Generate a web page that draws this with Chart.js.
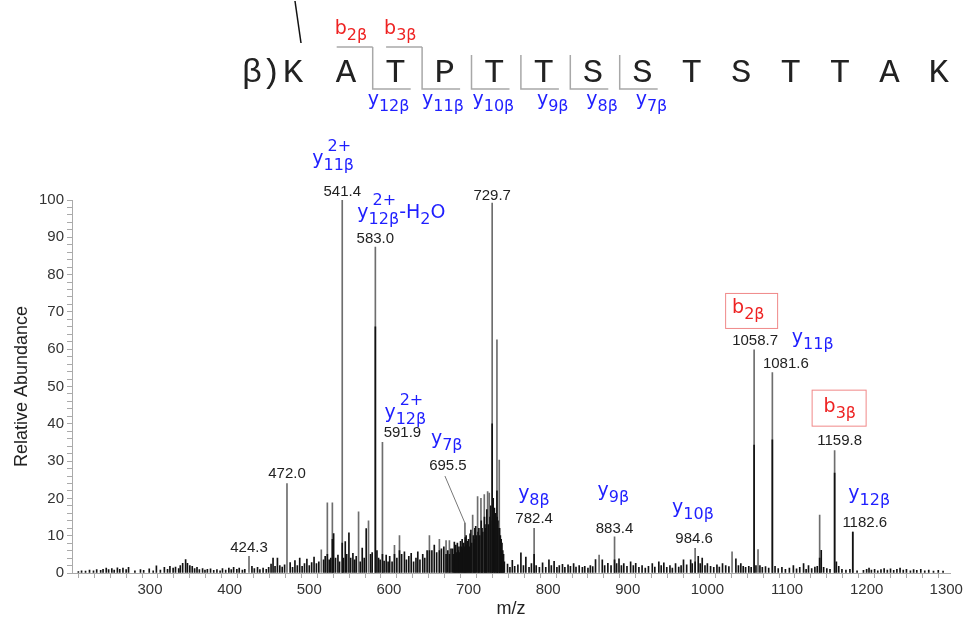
<!DOCTYPE html>
<html><head><meta charset="utf-8">
<script src="https://cdn.jsdelivr.net/npm/chart.js@4/dist/chart.umd.min.js"></script>
<style>html,body{margin:0;padding:0;background:#fff;}#wrap{width:966px;height:620px;}</style>
</head><body><div id="wrap"><canvas id="c" width="966" height="620"></canvas></div>
<script>
// ---------------- DATA ----------------
// isolated (grey) peak lines: m/z and relative abundance
const greyMz  = [424.3, 472.0, 515.1, 522.7, 529.0, 541.4, 561.9, 574.4, 583.0, 591.9, 607.0, 613.3, 650.9, 663.4, 671.8, 676.0, 695.5, 705.2, 711.4, 715.6, 719.8, 724.0, 726.0, 729.7, 735.7, 738.6, 782.4, 864.0, 883.4, 984.6, 1031.0, 1058.7, 1063.6, 1081.6, 1141.0, 1159.8, 1182.6];
const greyInt = [4.5, 24.0, 6.2, 18.8, 18.8, 100.0, 16.4, 14.0, 87.4, 35.0, 7.4, 10.0, 10.0, 9.0, 8.7, 8.7, 13.4, 15.5, 20.5, 20.0, 21.0, 21.8, 21.4, 99.2, 62.5, 30.3, 12.0, 4.8, 9.7, 6.6, 5.7, 59.8, 6.3, 53.7, 15.5, 32.8, 11.0];

// low-mass noise 200-450
const noiseLowMz = [210, 214, 219, 224, 229, 233, 238, 241, 245, 248,
  252, 255, 259, 262, 266, 270, 273, 281, 288, 292,
  299, 304, 308, 313, 318, 322, 325, 329, 332, 336,
  338, 341, 344.7, 347, 350, 353, 356, 359, 362, 366,
  369, 372, 376, 380, 384, 388, 391, 395, 399, 402,
  405, 409, 412, 416, 419, 428, 431, 435, 438, 442,
  446, 449];
const noiseLowInt = [0.4, 0.6, 0.5, 0.8, 0.6, 0.9, 0.7, 1.0, 1.3, 0.9,
  1.2, 0.8, 1.4, 1.0, 1.3, 0.9, 1.5, 0.6, 0.9, 0.7,
  1.1, 0.6, 1.9, 0.8, 1.5, 1.0, 1.8, 1.3, 1.6, 1.2,
  2.0, 2.6, 3.6, 2.6, 2.0, 1.8, 1.2, 1.5, 0.9, 1.2,
  0.8, 1.0, 1.1, 0.7, 0.9, 0.6, 1.2, 0.8, 1.3, 0.9,
  1.5, 1.0, 1.3, 0.8, 1.0, 1.8, 1.2, 1.5, 0.9, 1.3,
  1.0, 1.5];

// cluster 450-680
const clusterMz = [452, 454.5, 457, 460, 463, 466, 469, 476, 479, 482,
  485, 488, 491, 494, 497, 500, 503, 506, 509, 512,
  518, 520, 525, 527, 530.6, 533, 536, 538, 543, 545.2,
  547, 549.8, 552, 554.8, 557, 559, 564, 566.5, 569, 571.5,
  577, 579, 585, 587, 589, 594, 596.6, 599, 601, 604,
  610, 616, 619.5, 622, 625, 628, 631, 634, 636.3, 639,
  642.5, 645, 648, 654, 657, 660, 666, 669, 674, 678];
const clusterInt = [2.4, 4.0, 1.8, 4.0, 2.0, 1.6, 2.2, 2.8, 1.5, 3.3,
  2.0, 4.0, 1.8, 2.5, 3.7, 2.0, 2.8, 4.3, 2.5, 3.0,
  3.5, 4.5, 3.5, 4.0, 10.6, 4.0, 4.8, 3.0, 4.0, 8.4,
  5.0, 10.8, 4.0, 5.3, 3.5, 4.5, 3.0, 6.7, 4.0, 11.9,
  5.0, 5.5, 6.0, 4.0, 3.5, 3.2, 4.8, 3.0, 4.5, 3.0,
  4.0, 5.0, 5.7, 3.5, 4.5, 5.3, 3.0, 4.0, 5.7, 3.5,
  5.0, 4.0, 6.0, 6.0, 7.5, 5.5, 6.5, 7.0, 6.0, 6.5];

// dense region 680-745
const denseMz = [680, 681, 682.2, 683, 684, 685, 686, 687, 688, 689,
  690, 691, 692, 693, 694, 695, 696, 697, 698, 699,
  700, 701, 702, 703, 704, 706, 707, 708, 709, 710,
  712, 713, 714, 716, 717, 718, 720, 721, 722, 723,
  725, 727, 728, 730, 731, 732.5, 733, 734, 736, 737,
  739, 740, 741, 742, 743, 744, 745];
const denseInt = [6.5, 5.0, 8.3, 6.0, 7.5, 5.5, 8.0, 6.0, 7.0, 5.5,
  8.5, 7.0, 9.0, 6.5, 8.0, 7.0, 9.5, 10.0, 7.5, 8.5,
  9.0, 7.0, 10.5, 11.5, 8.0, 10.0, 9.0, 12.0, 12.5, 10.0,
  11.0, 12.0, 10.0, 14.0, 12.0, 11.0, 15.0, 12.0, 13.0, 17.0,
  13.0, 15.0, 18.0, 14.0, 20.0, 17.4, 12.0, 16.0, 15.0, 14.0,
  12.0, 10.0, 9.0, 8.0, 6.0, 5.0, 3.0];

// high-mass noise 745-1305
const noiseHighMz = [749, 752, 755, 758, 762, 765.8, 769, 772, 776, 779,
  785, 789, 793, 797, 801, 804, 807.5, 811, 814, 818,
  821, 825, 828, 832, 835, 839, 843, 846, 850, 853,
  856, 859.5, 868, 871, 875, 879, 886, 889, 892, 895,
  899, 903.6, 907, 910, 914, 918, 922, 926, 930.8, 934,
  939, 942, 945.3, 949, 953, 956, 960, 964, 967, 970,
  974, 979, 981, 988.5, 991, 993.5, 997, 1000, 1004, 1008,
  1012, 1015, 1019, 1023, 1027, 1035.8, 1039, 1042, 1045, 1048,
  1052, 1055, 1061, 1066, 1069, 1073, 1077, 1085, 1089, 1093.6,
  1098, 1103, 1108, 1112, 1116, 1120.8, 1124, 1127, 1131, 1135,
  1138, 1146, 1150, 1154, 1162, 1165, 1169, 1174, 1179, 1188,
  1196, 1200, 1203, 1206, 1210, 1214, 1218, 1222, 1226, 1230,
  1234, 1238, 1242, 1246, 1250, 1255, 1259, 1263, 1268, 1273,
  1278, 1284, 1290, 1296];
const noiseHighInt = [2.4, 1.5, 3.4, 1.8, 2.2, 5.4, 2.0, 4.3, 1.5, 2.5,
  2.0, 1.5, 2.7, 1.5, 3.5, 2.0, 3.1, 1.5, 2.0, 2.3,
  1.5, 2.2, 1.8, 2.5, 1.6, 2.0, 1.5, 1.8, 1.3, 2.0,
  1.7, 3.6, 3.5, 2.0, 2.6, 2.0, 2.5, 3.8, 2.0, 2.5,
  1.8, 3.0, 2.0, 2.6, 1.5, 2.0, 1.3, 1.8, 2.5, 1.6,
  3.0, 2.0, 2.7, 1.5, 2.0, 1.3, 2.5, 1.6, 2.0, 3.5,
  2.2, 3.5, 2.5, 4.5, 2.5, 4.0, 2.0, 2.5, 1.8, 1.5,
  2.2, 1.6, 2.5, 2.0, 1.7, 3.8, 2.0, 2.5, 1.8, 1.5,
  1.8, 1.5, 2.0, 2.0, 1.5, 1.7, 1.3, 1.8, 1.2, 1.5,
  1.0, 1.3, 2.0, 1.1, 1.5, 2.5, 1.0, 2.0, 1.2, 1.6,
  1.8, 1.5, 1.2, 1.0, 3.0, 1.8, 1.0, 0.8, 1.0, 0.6,
  0.7, 1.0, 1.3, 0.8, 1.0, 0.6, 0.9, 1.2, 0.8, 1.1,
  0.7, 1.0, 1.3, 0.8, 1.0, 0.6, 0.9, 0.7, 1.0, 0.6,
  0.8, 0.5, 0.7, 0.5];

// dark cores of the main peaks
const coreMz  = [522.7, 529.0, 541.4, 583.0, 591.9, 607.0, 613.3, 650.9, 663.4, 671.8, 676.0, 729.7, 735.7, 738.6, 782.4, 883.4, 984.6, 1058.7, 1081.6, 1141.0, 1143.0, 1159.8, 1182.6];
const coreInt = [5.0, 9.0, 8.0, 66.0, 5.0, 5.0, 6.0, 6.0, 6.0, 5.0, 5.0, 40.0, 22.0, 12.0, 5.0, 3.5, 3.0, 34.3, 35.7, 4.0, 6.1, 26.8, 11.0];

// labelled peaks
const peakLabelMz = [424.3, 472.0, 541.4, 583.0, 591.9, 695.5, 729.7, 782.4, 883.4, 984.6, 1058.7, 1081.6, 1159.8, 1182.6];
const peakLabelText = ['424.3', '472.0', '541.4', '583.0', '591.9', '695.5', '729.7', '782.4', '883.4', '984.6', '1058.7', '1081.6', '1159.8', '1182.6'];
// ion annotation for each labelled peak (parts: [text, role])
const peakIons = [
  null, null,
  {c:'b', parts:[['y','m'],['11β','sub'],['2+','sup']]},
  {c:'b', parts:[['y','m'],['12β','sub'],['2+','sup'],['-H','m'],['2','sub'],['O','m']]},
  {c:'b', parts:[['y','m'],['12β','sub'],['2+','sup']]},
  {c:'b', parts:[['y','m'],['7β','sub']]},
  null,
  {c:'b', parts:[['y','m'],['8β','sub']]},
  {c:'b', parts:[['y','m'],['9β','sub']]},
  {c:'b', parts:[['y','m'],['10β','sub']]},
  {c:'r', box:true, parts:[['b','m'],['2β','sub']]},
  {c:'b', parts:[['y','m'],['11β','sub']]},
  {c:'r', box:true, parts:[['b','m'],['3β','sub']]},
  {c:'b', parts:[['y','m'],['12β','sub']]}
];

const xTickStep = 20, xLabelStep = 100;
const yTickStep = 2, yLabelStep = 10;

// peptide sequence
const seqPrefix = ['β', ')'];
const seqResidues = ['K','A','T','P','T','T','S','S','T','S','T','T','A','K'];
// fragment cleavages: after residue index, type
const bCleaves = [{after:1, label:'2β'}, {after:2, label:'3β'}];
const yCleaves = [{after:1, label:'12β'}, {after:2, label:'11β'}, {after:3, label:'10β'}, {after:4, label:'9β'}, {after:5, label:'8β'}, {after:6, label:'7β'}];

// ---------------- LAYOUT (pixels) ----------------
const numLayout = [ {dx:0,gap:4},{dx:0,gap:5},{dx:0,gap:4},{dx:0,gap:4},{dx:20,gap:5},{dx:-17,gap:53},{dx:0,gap:3},
  {dx:0,gap:5},{dx:0,gap:4},{dx:-1,gap:5},{dx:1,gap:5},{dx:13.5,gap:5},{dx:5,gap:6},{dx:12,gap:5} ];
const ionLayout = [ null, null, {dx:-30,dy:-32}, {dx:-18,dy:-25}, {dx:-18,dy:-19}, {dx:-17,dy:-26}, null,
  {dx:-16,dy:-24}, {dx:-17,dy:-37}, {dx:-22,dy:-30},
  {dx:-23,dy:-32, bx:-30, by:-52, bw:52, bh:35}, {dx:6,dy:-25},
  {dx:-16,dy:-33, bx:-28, by:-55, bw:54, bh:36}, {dx:-16.5,dy:-28} ];
const seqLayout = {firstX:293, restX:346, step:49.4, base:82, prefixX:[252,271], topY:47, botY:89, yOnlyTop:55,
  bLabelBase:34, yLabelBase:105, yLabelOff:[-5,0,1,16,16,16], bLabelOff:-38};
const COLORS = {b:'#1f1fff', r:'#ee2222', box:'#f08888', num:'#222', grey:'#6e6e6e', black:'#111', axis:'#aaa'};
const SANS = '"Liberation Sans", Arial, sans-serif';
const ION = '"DejaVu Sans", Verdana, sans-serif';

function pts(mz, it){ return mz.map((m,i)=>({x:m, y:it[i]})); }

function drawRich(ctx, x, y, parts, color, mainPx, subPx){
  ctx.fillStyle = color; ctx.textAlign = 'left'; ctx.textBaseline = 'alphabetic';
  let cx = x, subStart = null;
  for (const [t, role] of parts){
    if (role === 'm'){ ctx.font = mainPx+'px '+ION; ctx.fillText(t, cx, y); cx += ctx.measureText(t).width; subStart = null; }
    else if (role === 'sub'){ ctx.font = subPx+'px '+ION; ctx.fillText(t, cx, y+6); subStart = cx; cx += ctx.measureText(t).width; }
    else { ctx.font = subPx+'px '+ION; const sx = subStart !== null ? subStart+4 : cx; ctx.fillText(t, sx, y-13); cx = Math.max(cx, sx + ctx.measureText(t).width); }
  }
  return cx;
}

const annot = {
  id:'annot',
  afterDatasetsDraw(chart){
    const {ctx} = chart; const xs = chart.scales.x, ys = chart.scales.y;
    ctx.save();
    peakLabelMz.forEach((m,i)=>{
      const h = greyInt[greyMz.indexOf(m)];
      const px = xs.getPixelForValue(m), py = ys.getPixelForValue(h);
      const L = numLayout[i];
      const cx = px + L.dx, base = py - L.gap;
      ctx.font = '15px '+SANS; ctx.fillStyle = COLORS.num; ctx.textAlign = 'center'; ctx.textBaseline = 'alphabetic';
      ctx.fillText(peakLabelText[i], cx, base);
      if (L.gap > 20){ // leader line
        ctx.strokeStyle = '#777'; ctx.lineWidth = 1; ctx.beginPath();
        ctx.moveTo(cx-3, base+6); ctx.lineTo(px, py); ctx.stroke();
      }
      const ion = peakIons[i];
      if (ion){
        const IL = ionLayout[i];
        if (ion.box){ ctx.strokeStyle = COLORS.box; ctx.lineWidth = 1; ctx.strokeRect(cx+IL.bx+0.5, base+IL.by+0.5, IL.bw, IL.bh); }
        drawRich(ctx, cx+IL.dx, base+IL.dy, ion.parts, ion.c==='r'?COLORS.r:COLORS.b, 19, 16);
      }
    });
    ctx.restore();
  },
  afterDraw(chart){
    const {ctx} = chart; const S = seqLayout;
    ctx.save();
    // slanted cross-link line
    ctx.strokeStyle = '#111'; ctx.lineWidth = 1.5; ctx.beginPath(); ctx.moveTo(295,1); ctx.lineTo(301,43); ctx.stroke();
    // sequence
    ctx.font = '34px "Liberation Mono", "DejaVu Sans Mono", monospace'; ctx.fillStyle = '#222'; ctx.textAlign='center'; ctx.textBaseline='alphabetic';
    seqPrefix.forEach((c,i)=>ctx.fillText(c, S.prefixX[i], S.base));
    const rx = i => i===0 ? S.firstX : S.restX + (i-1)*S.step;
    seqResidues.forEach((c,i)=>ctx.fillText(c, rx(i), S.base));
    ctx.strokeStyle = '#a8a8a8'; ctx.lineWidth = 1.5;
    const gapX = a => (rx(a)+rx(a+1))/2 + 2;
    const bSet = new Set(bCleaves.map(b=>b.after));
    yCleaves.forEach((yc,k)=>{
      const g = gapX(yc.after);
      ctx.beginPath();
      ctx.moveTo(g, bSet.has(yc.after)?S.topY:S.yOnlyTop); ctx.lineTo(g, S.botY); ctx.lineTo(g+38, S.botY); ctx.stroke();
      drawRich(ctx, g + S.yLabelOff[k], S.yLabelBase, [['y','m'],[yc.label,'sub']], COLORS.b, 19, 16);
    });
    bCleaves.forEach(bc=>{
      const g = gapX(bc.after);
      ctx.beginPath(); ctx.moveTo(g-36, S.topY); ctx.lineTo(g, S.topY); ctx.stroke();
      drawRich(ctx, g + S.bLabelOff, S.bLabelBase, [['b','m'],[bc.label,'sub']], COLORS.r, 19, 16);
    });
    ctx.restore();
  }
};

new Chart(document.getElementById('c'), {
  type:'bar',
  data:{datasets:[
    {label:'black', data: pts([].concat(noiseLowMz, clusterMz, denseMz, noiseHighMz, coreMz), [].concat(noiseLowInt, clusterInt, denseInt, noiseHighInt, coreInt)),
     backgroundColor: COLORS.black, barThickness:1},
    {label:'grey', data: pts(greyMz, greyInt), backgroundColor: COLORS.grey, barThickness:1}
  ]},
  options:{
    responsive:false, animation:false, devicePixelRatio:1,
    layout:{padding:{top:200, right:14, left:0, bottom:0}},
    plugins:{legend:{display:false}, tooltip:{enabled:false}},
    datasets:{bar:{grouped:false}},
    scales:{
      x:{type:'linear', min:202, max:1305, offset:false,
        ticks:{stepSize:xTickStep, includeBounds:false, autoSkip:false, maxRotation:0, padding:3,
          callback:v=> v % xLabelStep === 0 ? String(v) : '', font:{family:SANS, size:15}, color:'#333'},
        grid:{drawOnChartArea:false, tickLength:5, color:COLORS.axis}, border:{color:COLORS.axis},
        title:{display:true, text:'m/z', font:{family:SANS, size:18}, color:'#222', padding:{top:3, bottom:0}},
        afterFit:s=>{s.height = 47;}
      },
      y:{min:0, max:100,
        ticks:{stepSize:yTickStep, autoSkip:false, padding:3,
          callback:v=> v % yLabelStep === 0 ? String(v) : '', font:{family:SANS, size:15}, color:'#333'},
        grid:{drawOnChartArea:false, tickLength:5, color:COLORS.axis}, border:{color:COLORS.axis},
        title:{display:true, text:'Relative Abundance', font:{family:SANS, size:18}, color:'#222', padding:{top:11, bottom:0}},
        afterFit:s=>{s.width = 72;}
      }
    }
  },
  plugins:[annot]
});
</script></body></html>
